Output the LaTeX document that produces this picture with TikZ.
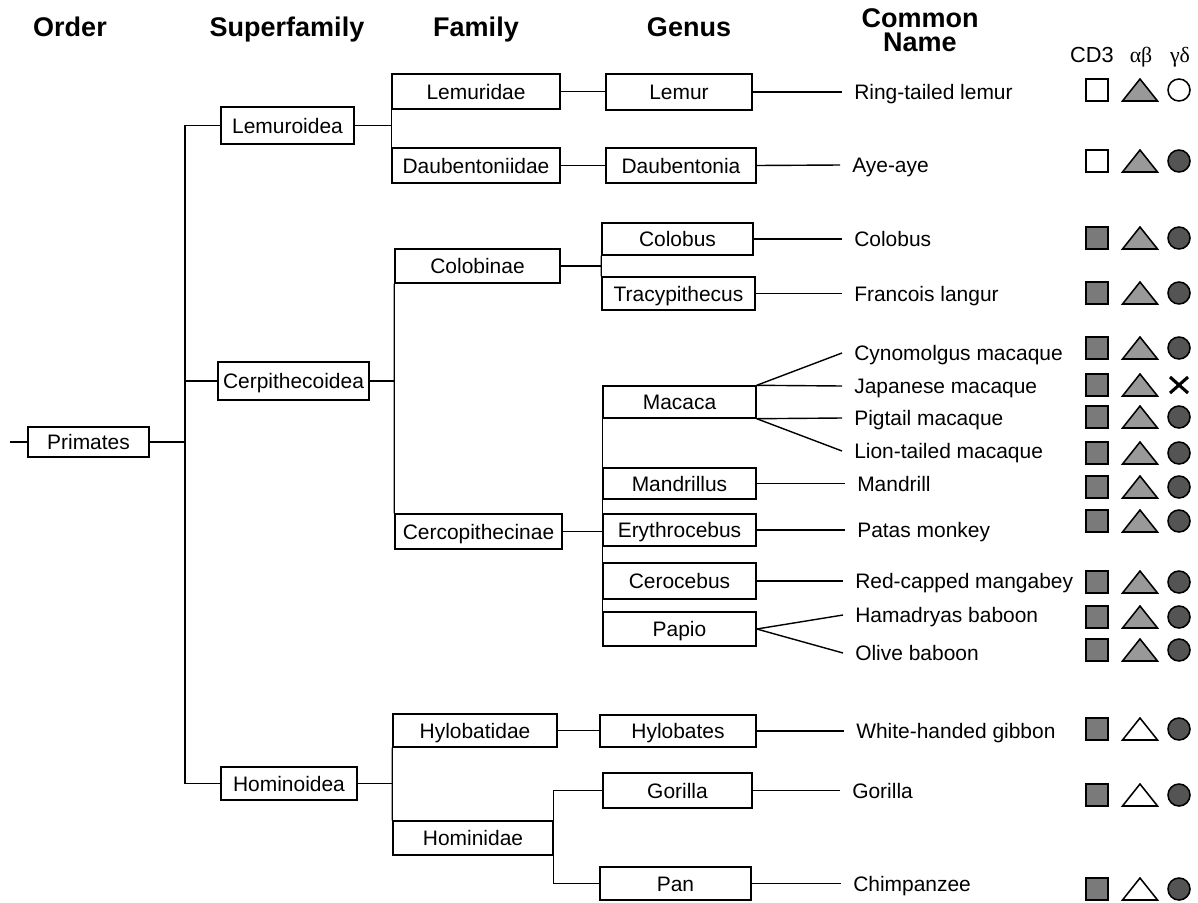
\documentclass[tikz,border=0pt]{standalone}
\usepackage{fontspec}
\setmainfont{Liberation Sans}
\newfontfamily\greekfont{Liberation Serif}

\definecolor{sqgrey}{gray}{0.48}
\definecolor{trigrey}{gray}{0.6}
\definecolor{dotgrey}{gray}{0.33}

\newcommand\taxfont{\fontsize{14.9}{17}\selectfont}
\newcommand\headfont{\fontsize{19.2}{23}\selectfont\bfseries}

\tikzset{
  taxon/.style 2 args={draw, line width=1pt, inner sep=0pt, minimum width=#1cm,
    minimum height=#2cm, text height=10.7pt, text depth=0pt, font=\taxfont},
  common/.style={anchor=west, inner xsep=0.3cm, inner ysep=0pt,
    text height=10.7pt, text depth=0pt, font=\taxfont},
  head/.style={anchor=base, inner sep=0pt, font=\headfont},
  colhead/.style={anchor=base, inner sep=0pt, font=\fontsize{15.5}{18}\selectfont},
  link/.style={line width=1pt},
  cdsq/.style={draw, line width=1.1pt, minimum size=0.55cm, inner sep=0pt},
  cddot/.style={draw, circle, line width=1.1pt, minimum size=0.55cm, inner sep=0pt},
}

\begin{document}
\begin{tikzpicture}[x=0.025cm,y=-0.025cm]
\useasboundingbox (0,0) rectangle (1198,902);

% column heads
\node[head] (orderhead) at (70,36) {Order};
\node[head] (superhead) at (287,36) {Superfamily};
\node[head] (familyhead) at (476,36) {Family};
\node[head] (genushead) at (689,36) {Genus};
\node[head, anchor=north, align=center] (commonhead) at (920,8) {Common\\[-5.5pt]Name};
\node[colhead] (cdhead) at (1092,62) {CD3};
\node[colhead] (abhead) at (1141,62) {\greekfont αβ};
\node[colhead] (gdhead) at (1180,62) {\greekfont γδ};

% order and superfamilies
\node[taxon={3.025}{0.75}] (primates) at (88.5,442) {Primates};
\node[taxon={3.325}{0.925}] (lemuroidea) at (287.5,125.5) {Lemuroidea};
\node[taxon={3.775}{0.95}] (cerpithecoidea) at (293.5,381) {Cerpithecoidea};
\node[taxon={3.4}{0.825}] (hominoidea) at (289,783.5) {Hominoidea};

% families
\node[taxon={4.2}{0.875}] (lemuridae) at (476,91.5) {Lemuridae};
\node[taxon={4.2}{0.875}] (daubentoniidae) at (476,165.5) {Daubentoniidae};
\node[taxon={4.125}{0.85}] (colobinae) at (477.5,266) {Colobinae};
\node[taxon={4.175}{0.875}] (cercopithecinae) at (478.5,531.5) {Cercopithecinae};
\node[taxon={4.1}{0.825}] (hylobatidae) at (475,730.5) {Hylobatidae};
\node[taxon={4.0}{0.85}] (hominidae) at (473,838) {Hominidae};

% genera
\node[taxon={3.65}{0.9}] (lemur) at (679,92) {Lemur};
\node[taxon={3.75}{0.875}] (daubentonia) at (681,165.5) {Daubentonia};
\node[taxon={3.775}{0.8}] (colobus) at (677.5,239) {Colobus};
\node[taxon={3.825}{0.825}] (tracypithecus) at (678.5,293.5) {Tracypithecus};
\node[taxon={3.825}{0.8}] (macaca) at (679.5,402) {Macaca};
\node[taxon={3.825}{0.775}] (mandrillus) at (679.5,483.5) {Mandrillus};
\node[taxon={3.825}{0.8}] (erythrocebus) at (679.5,530) {Erythrocebus};
\node[taxon={3.825}{0.9}] (cerocebus) at (679.5,581) {Cerocebus};
\node[taxon={3.825}{0.85}] (papio) at (679.5,629) {Papio};
\node[taxon={3.9}{0.8}] (hylobates) at (678,731) {Hylobates};
\node[taxon={3.725}{0.875}] (gorilla) at (677.5,790.5) {Gorilla};
\node[taxon={3.775}{0.825}] (pan) at (675.5,883.5) {Pan};

% common names
\node[common] (ringtailed) at (842,92) {Ring-tailed lemur};
\node[common] (ayeaye) at (840,165) {Aye-aye};
\node[common] (colobusname) at (842,239) {Colobus};
\node[common] (francois) at (842,293.5) {Francois langur};
\node[common] (cynomolgus) at (842,353) {Cynomolgus macaque};
\node[common] (japanese) at (842,386) {Japanese macaque};
\node[common] (pigtail) at (842,418) {Pigtail macaque};
\node[common] (liontailed) at (842,451) {Lion-tailed macaque};
\node[common] (mandrill) at (845,483.5) {Mandrill};
\node[common] (patas) at (845,530) {Patas monkey};
\node[common] (redcapped) at (843,581) {Red-capped mangabey};
\node[common] (hamadryas) at (843,615) {Hamadryas baboon};
\node[common] (olive) at (843,653) {Olive baboon};
\node[common] (gibbon) at (844,731) {White-handed gibbon};
\node[common] (gorillaname) at (840,790.5) {Gorilla};
\node[common] (chimp) at (841,883.5) {Chimpanzee};

% order bracket
\coordinate (stub) at (10,442);
\coordinate (orderbar) at (185,442);
\draw[link] (stub) -- (primates.west);
\draw[link] (primates.east) -- (orderbar);
\draw[link] (lemuroidea.west) -| (orderbar) |- (hominoidea.west);
\draw[link] (cerpithecoidea.west) -- (cerpithecoidea.west -| orderbar);

% family brackets
\draw[link] (lemuroidea.east) -- (lemuroidea.east -| lemuridae.west);
\draw[link] (lemuridae.south west) -- (daubentoniidae.north west);
\draw[link] (cerpithecoidea.east) -- (cerpithecoidea.east -| colobinae.west);
\draw[link] (colobinae.south west) -- (cercopithecinae.north west);
\draw[link] (hominoidea.east) -- (hominoidea.east -| hylobatidae.west);
\draw[link] (hylobatidae.south west) -- (hominidae.north west);

% genus brackets
\draw[link] (lemuridae.east) -- (lemuridae.east -| lemur.west);
\draw[link] (daubentoniidae.east) -- (daubentoniidae.east -| daubentonia.west);
\draw[link] (colobinae.east) -- (colobinae.east -| colobus.west);
\draw[link] (colobus.south west) -- (tracypithecus.north west);
\draw[link] (cercopithecinae.east) -- (cercopithecinae.east -| macaca.west);
\draw[link] (macaca.north west) -- (papio.north west);
\draw[link] (hylobatidae.east) -- (hylobatidae.east -| hylobates.west);
\draw[link] (gorilla.west) -| (hominidae.north east) |- (pan.west);

% genus to common name
\draw[link] (lemur.east) -- (ringtailed.west);
\draw[link] (daubentonia.east) -- (ayeaye.west);
\draw[link] (colobus.east) -- (colobusname.west);
\draw[link] (tracypithecus.east) -- (francois.west);
\draw[link] (macaca.north east) -- (cynomolgus.west);
\draw[link] (macaca.north east) -- (japanese.west);
\draw[link] (macaca.south east) -- (pigtail.west);
\draw[link] (macaca.south east) -- (liontailed.west);
\draw[link] (mandrillus.east) -- (mandrill.west);
\draw[link] (erythrocebus.east) -- (patas.west);
\draw[link] (cerocebus.east) -- (redcapped.west);
\draw[link] (papio.east) -- (hamadryas.west);
\draw[link] (papio.east) -- (olive.west);
\draw[link] (hylobates.east) -- (gibbon.west);
\draw[link] (gorilla.east) -- (gorillaname.west);
\draw[link] (pan.east) -- (chimp.west);

% CD3 and alpha-beta marks
\foreach \y/\sq/\tri in {90/white/trigrey, 161/white/trigrey, 238/sqgrey/trigrey,
    293/sqgrey/trigrey, 348/sqgrey/trigrey, 385/sqgrey/trigrey, 417/sqgrey/trigrey,
    453/sqgrey/trigrey, 487/sqgrey/trigrey, 521/sqgrey/trigrey, 582/sqgrey/trigrey,
    617/sqgrey/trigrey, 650/sqgrey/trigrey, 729/sqgrey/white, 795/sqgrey/white,
    889/sqgrey/white}{
  \node[cdsq, fill=\sq] at (1097,\y) {};
  \draw[line width=1.1pt, fill=\tri] (1122.5,\y+11) -- (1157.5,\y+11) -- (1140,\y-11) -- cycle;
}
% gamma-delta marks
\foreach \y/\dot in {90/white, 161/dotgrey, 238/dotgrey, 293/dotgrey, 348/dotgrey,
    417/dotgrey, 453/dotgrey, 487/dotgrey, 521/dotgrey, 582/dotgrey, 617/dotgrey,
    650/dotgrey, 729/dotgrey, 795/dotgrey, 889/dotgrey}{
  \node[cddot, fill=\dot] at (1179,\y) {};
}
\draw[line width=2.2pt] (1170,377) -- (1188,393);
\draw[line width=2.2pt] (1170,393) -- (1188,377);
\end{tikzpicture}
\end{document}
